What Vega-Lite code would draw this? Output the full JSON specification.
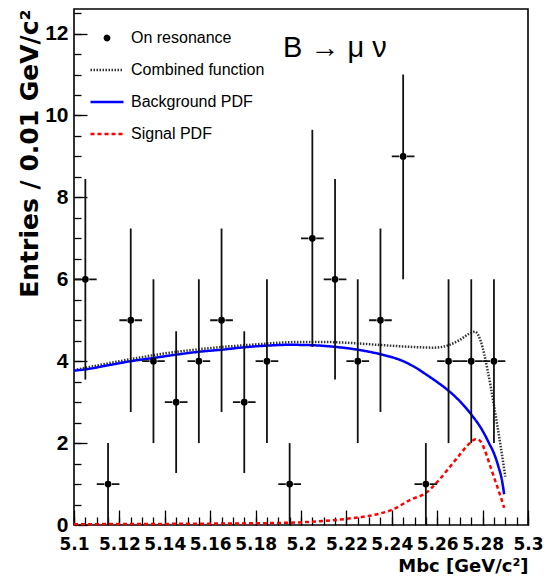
{
  "$schema": "https://vega.github.io/schema/vega-lite/v6.json",
  "width": 454,
  "height": 516,
  "autosize": {"type": "none"},
  "padding": {"left": 74, "top": 9, "right": 20, "bottom": 56},
  "background": "white",
  "title": {"text": "B → μ ν", "anchor": "start", "frame": "group", "orient": "top", "offset": 0, "dx": 209, "dy": 77, "baseline": "alphabetic", "font": "Liberation Sans", "fontSize": 29, "fontWeight": "normal", "color": "black"},
  "config": {
    "view": {"stroke": "black", "strokeWidth": 1.6},
    "axis": {"grid": false, "domain": false, "tickColor": "black", "tickWidth": 1.3, "labelColor": "black", "titleColor": "black", "labelFlush": false, "labelOverlap": false},
    "legend": {"symbolSize": 1089, "clipHeight": 20, "rowPadding": 12, "labelOffset": 6, "labelFont": "Liberation Sans", "labelFontSize": 16, "labelColor": "black", "symbolStrokeWidth": 2.5, "padding": 0, "labelLimit": 300}
  },
  "datasets": {
    "pts": [
      {"x": 5.105, "n": 6, "lo": 3.55, "hi": 8.45, "xlo": 5.10, "xhi": 5.11, "series": "On resonance"},
      {"x": 5.115, "n": 1, "lo": 0, "hi": 2, "xlo": 5.11, "xhi": 5.12, "series": "On resonance"},
      {"x": 5.125, "n": 5, "lo": 2.76, "hi": 7.24, "xlo": 5.12, "xhi": 5.13, "series": "On resonance"},
      {"x": 5.135, "n": 4, "lo": 2, "hi": 6, "xlo": 5.13, "xhi": 5.14, "series": "On resonance"},
      {"x": 5.145, "n": 3, "lo": 1.27, "hi": 4.73, "xlo": 5.14, "xhi": 5.15, "series": "On resonance"},
      {"x": 5.155, "n": 4, "lo": 2, "hi": 6, "xlo": 5.15, "xhi": 5.16, "series": "On resonance"},
      {"x": 5.165, "n": 5, "lo": 2.76, "hi": 7.24, "xlo": 5.16, "xhi": 5.17, "series": "On resonance"},
      {"x": 5.175, "n": 3, "lo": 1.27, "hi": 4.73, "xlo": 5.17, "xhi": 5.18, "series": "On resonance"},
      {"x": 5.185, "n": 4, "lo": 2, "hi": 6, "xlo": 5.18, "xhi": 5.19, "series": "On resonance"},
      {"x": 5.195, "n": 1, "lo": 0, "hi": 2, "xlo": 5.19, "xhi": 5.20, "series": "On resonance"},
      {"x": 5.205, "n": 7, "lo": 4.35, "hi": 9.65, "xlo": 5.20, "xhi": 5.21, "series": "On resonance"},
      {"x": 5.215, "n": 6, "lo": 3.55, "hi": 8.45, "xlo": 5.21, "xhi": 5.22, "series": "On resonance"},
      {"x": 5.225, "n": 4, "lo": 2, "hi": 6, "xlo": 5.22, "xhi": 5.23, "series": "On resonance"},
      {"x": 5.235, "n": 5, "lo": 2.76, "hi": 7.24, "xlo": 5.23, "xhi": 5.24, "series": "On resonance"},
      {"x": 5.245, "n": 9, "lo": 6, "hi": 11, "xlo": 5.24, "xhi": 5.25, "series": "On resonance"},
      {"x": 5.255, "n": 1, "lo": 0, "hi": 2, "xlo": 5.25, "xhi": 5.26, "series": "On resonance"},
      {"x": 5.265, "n": 4, "lo": 2, "hi": 6, "xlo": 5.26, "xhi": 5.27, "series": "On resonance"},
      {"x": 5.275, "n": 4, "lo": 2, "hi": 6, "xlo": 5.27, "xhi": 5.28, "series": "On resonance"},
      {"x": 5.285, "n": 4, "lo": 2, "hi": 6, "xlo": 5.28, "xhi": 5.29, "series": "On resonance"}
    ],
    "curves": [
      {"series": "Combined function", "x": 5.100, "y": 3.78},
      {"series": "Combined function", "x": 5.120, "y": 4.00},
      {"series": "Combined function", "x": 5.140, "y": 4.19},
      {"series": "Combined function", "x": 5.160, "y": 4.32},
      {"series": "Combined function", "x": 5.180, "y": 4.41},
      {"series": "Combined function", "x": 5.190, "y": 4.45},
      {"series": "Combined function", "x": 5.200, "y": 4.47},
      {"series": "Combined function", "x": 5.210, "y": 4.47},
      {"series": "Combined function", "x": 5.220, "y": 4.45},
      {"series": "Combined function", "x": 5.2337, "y": 4.40},
      {"series": "Combined function", "x": 5.2483, "y": 4.35},
      {"series": "Combined function", "x": 5.2584, "y": 4.33},
      {"series": "Combined function", "x": 5.265, "y": 4.39},
      {"series": "Combined function", "x": 5.2697, "y": 4.51},
      {"series": "Combined function", "x": 5.2741, "y": 4.67},
      {"series": "Combined function", "x": 5.2766, "y": 4.72},
      {"series": "Combined function", "x": 5.2793, "y": 4.47},
      {"series": "Combined function", "x": 5.2822, "y": 3.78},
      {"series": "Combined function", "x": 5.2851, "y": 2.89},
      {"series": "Combined function", "x": 5.2880, "y": 1.91},
      {"series": "Combined function", "x": 5.2900, "y": 1.18},
      {"series": "Background PDF", "x": 5.100, "y": 3.77},
      {"series": "Background PDF", "x": 5.105, "y": 3.80},
      {"series": "Background PDF", "x": 5.115, "y": 3.90},
      {"series": "Background PDF", "x": 5.125, "y": 4.00},
      {"series": "Background PDF", "x": 5.135, "y": 4.08},
      {"series": "Background PDF", "x": 5.145, "y": 4.16},
      {"series": "Background PDF", "x": 5.155, "y": 4.23},
      {"series": "Background PDF", "x": 5.165, "y": 4.28},
      {"series": "Background PDF", "x": 5.175, "y": 4.34},
      {"series": "Background PDF", "x": 5.185, "y": 4.38},
      {"series": "Background PDF", "x": 5.195, "y": 4.40},
      {"series": "Background PDF", "x": 5.205, "y": 4.39},
      {"series": "Background PDF", "x": 5.215, "y": 4.35},
      {"series": "Background PDF", "x": 5.225, "y": 4.28},
      {"series": "Background PDF", "x": 5.235, "y": 4.17},
      {"series": "Background PDF", "x": 5.245, "y": 4.00},
      {"series": "Background PDF", "x": 5.250, "y": 3.86},
      {"series": "Background PDF", "x": 5.255, "y": 3.68},
      {"series": "Background PDF", "x": 5.260, "y": 3.49},
      {"series": "Background PDF", "x": 5.265, "y": 3.28},
      {"series": "Background PDF", "x": 5.270, "y": 3.02},
      {"series": "Background PDF", "x": 5.275, "y": 2.70},
      {"series": "Background PDF", "x": 5.280, "y": 2.30},
      {"series": "Background PDF", "x": 5.283, "y": 1.98},
      {"series": "Background PDF", "x": 5.285, "y": 1.75},
      {"series": "Background PDF", "x": 5.287, "y": 1.42},
      {"series": "Background PDF", "x": 5.2885, "y": 1.10},
      {"series": "Background PDF", "x": 5.2895, "y": 0.75},
      {"series": "Signal PDF", "x": 5.100, "y": 0.02},
      {"series": "Signal PDF", "x": 5.150, "y": 0.03},
      {"series": "Signal PDF", "x": 5.190, "y": 0.05},
      {"series": "Signal PDF", "x": 5.205, "y": 0.08},
      {"series": "Signal PDF", "x": 5.220, "y": 0.15},
      {"series": "Signal PDF", "x": 5.234, "y": 0.27},
      {"series": "Signal PDF", "x": 5.240, "y": 0.37},
      {"series": "Signal PDF", "x": 5.2487, "y": 0.63},
      {"series": "Signal PDF", "x": 5.255, "y": 0.78},
      {"series": "Signal PDF", "x": 5.260, "y": 1.05},
      {"series": "Signal PDF", "x": 5.265, "y": 1.38},
      {"series": "Signal PDF", "x": 5.270, "y": 1.72},
      {"series": "Signal PDF", "x": 5.274, "y": 1.98},
      {"series": "Signal PDF", "x": 5.2773, "y": 2.10},
      {"series": "Signal PDF", "x": 5.279, "y": 2.05},
      {"series": "Signal PDF", "x": 5.281, "y": 1.82},
      {"series": "Signal PDF", "x": 5.283, "y": 1.50},
      {"series": "Signal PDF", "x": 5.285, "y": 1.17},
      {"series": "Signal PDF", "x": 5.287, "y": 0.85},
      {"series": "Signal PDF", "x": 5.2895, "y": 0.42}
    ]
  },
  "resolve": {"scale": {"x": "independent", "y": "independent"}},
  "layer": [
    {
      "layer": [
        {
          "data": {"name": "curves"},
          "mark": {"type": "line", "strokeWidth": 2.5, "interpolate": "monotone"},
          "encoding": {
            "x": {"field": "x", "type": "quantitative", "scale": {"domain": [5.1, 5.3], "nice": false, "zero": false},
              "axis": {"values": [5.1, 5.12, 5.14, 5.16, 5.18, 5.2, 5.22, 5.24, 5.26, 5.28, 5.3], "format": ".2~f", "tickSize": -15, "labelFont": "DejaVu Sans", "labelFontWeight": "bold", "labelFontSize": 17, "labelPadding": 26, "title": "Mbc [GeV/c²]", "titleFont": "DejaVu Sans", "titleFontWeight": "bold", "titleFontSize": 18, "titleAnchor": "end", "titlePadding": 5, "orient": "bottom"}},
            "y": {"field": "y", "type": "quantitative", "scale": {"domain": [0, 12.6], "nice": false, "zero": false},
              "axis": {"values": [0, 2, 4, 6, 8, 10, 12], "tickSize": -13, "labelFont": "Liberation Sans", "labelFontWeight": "bold", "labelFontSize": 21, "labelPadding": 19, "title": "Entries / 0.01 GeV/c²", "titleFont": "DejaVu Sans", "titleFontWeight": "bold", "titleFontSize": 25, "titleAnchor": "end", "titlePadding": 2, "orient": "left"}},
            "color": {"field": "series", "type": "nominal", "scale": {"domain": ["On resonance", "Combined function", "Background PDF", "Signal PDF"], "range": ["black", "#333333", "#0000ff", "#ff0000"]}, "legend": {"title": null, "orient": "none", "legendX": 15, "legendY": 19}},
            "strokeDash": {"field": "series", "type": "nominal", "scale": {"domain": ["On resonance", "Combined function", "Background PDF", "Signal PDF"], "range": [[1, 0], [1.5, 1.5], [1, 0], [4, 3]]}, "legend": {"title": null, "orient": "none", "legendX": 15, "legendY": 19}}
          }
        },
        {
          "data": {"name": "pts"},
          "mark": {"type": "rule", "color": "#111111", "strokeWidth": 1.8},
          "encoding": {
            "x": {"field": "x", "type": "quantitative"},
            "y": {"field": "lo", "type": "quantitative"},
            "y2": {"field": "hi"}
          }
        },
        {
          "data": {"name": "pts"},
          "mark": {"type": "rule", "color": "#111111", "strokeWidth": 1.8, "strokeDash": [7.5, 7.7]},
          "encoding": {
            "x": {"field": "xlo", "type": "quantitative"},
            "x2": {"field": "xhi"},
            "y": {"field": "n", "type": "quantitative"}
          }
        },
        {
          "data": {"name": "pts"},
          "mark": {"type": "point", "filled": true, "size": 1089, "stroke": "black", "strokeWidth": 2.5, "opacity": 1},
          "encoding": {
            "x": {"field": "x", "type": "quantitative"},
            "y": {"field": "n", "type": "quantitative"},
            "color": {"field": "series", "type": "nominal", "scale": {"domain": ["On resonance", "Combined function", "Background PDF", "Signal PDF"], "range": ["black", "#333333", "#0000ff", "#ff0000"]}, "legend": {"title": null, "orient": "none", "legendX": 15, "legendY": 19}},
            "shape": {"field": "series", "type": "nominal", "scale": {"domain": ["On resonance", "Combined function", "Background PDF", "Signal PDF"], "range": ["M-0.13,0A0.13,0.13,0,1,0,0.13,0A0.13,0.13,0,1,0,-0.13,0Z", "stroke", "stroke", "stroke"]}, "legend": {"title": null, "orient": "none", "legendX": 15, "legendY": 19}}
          }
        }
      ]
    },
    {
      "data": {"name": "pts"},
      "mark": {"type": "point", "opacity": 0},
      "encoding": {
        "x": {"field": "x", "type": "quantitative", "scale": {"domain": [5.1, 5.3], "nice": false, "zero": false},
          "axis": {"orient": "bottom", "values": [5.1, 5.105, 5.11, 5.115, 5.12, 5.125, 5.13, 5.135, 5.14, 5.145, 5.15, 5.155, 5.16, 5.165, 5.17, 5.175, 5.18, 5.185, 5.19, 5.195, 5.2, 5.205, 5.21, 5.215, 5.22, 5.225, 5.23, 5.235, 5.24, 5.245, 5.25, 5.255, 5.26, 5.265, 5.27, 5.275, 5.28, 5.285, 5.29, 5.295, 5.3], "labels": false, "tickSize": -8, "title": null}},
        "y": {"field": "n", "type": "quantitative", "scale": {"domain": [0, 12.6], "nice": false, "zero": false},
          "axis": {"orient": "left", "values": [0.5, 1, 1.5, 2, 2.5, 3, 3.5, 4, 4.5, 5, 5.5, 6, 6.5, 7, 7.5, 8, 8.5, 9, 9.5, 10, 10.5, 11, 11.5, 12, 12.5], "labels": false, "tickSize": -7, "title": null}}
      }
    }
  ]
}
